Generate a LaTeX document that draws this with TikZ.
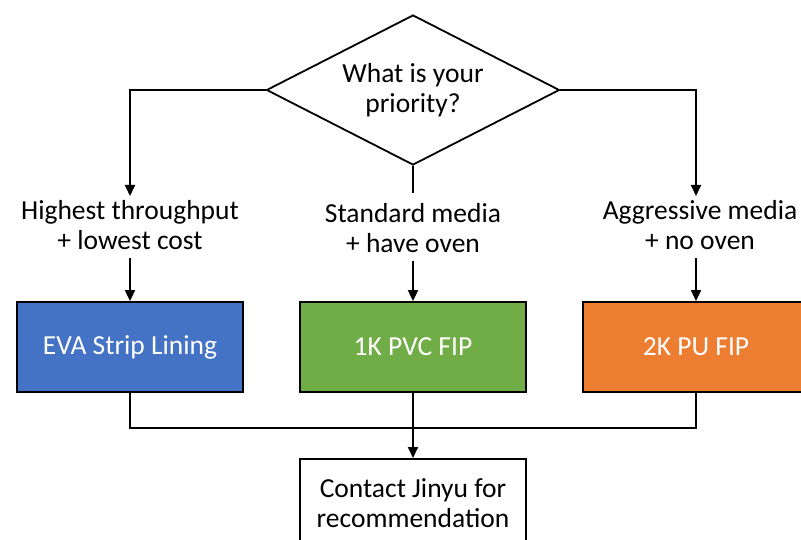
\documentclass[tikz,border=0pt]{standalone}
\usepackage{fontspec}
\setmainfont{Carlito}
\usetikzlibrary{shapes.geometric,arrows.meta}
\definecolor{evablue}{HTML}{4472C4}
\definecolor{pvcgreen}{HTML}{70AD47}
\definecolor{puorange}{HTML}{ED7D31}
\begin{document}
\begin{tikzpicture}[x=1pt,y=-1pt,
  line width=1.8pt,
  conn/.style={draw=black},
  arr/.style={conn,-{Triangle[length=11pt,width=10pt]}},
  lbl/.style={font=\fontsize{27.5}{30}\selectfont,align=center,inner sep=0pt},
  boxnode/.style={draw=black,minimum width=226pt,minimum height=90pt,font=\fontsize{27.5}{30}\selectfont,text=white,inner sep=0pt,align=center},
]
\useasboundingbox (0,0) rectangle (801,540);
\clip (0,0) rectangle (801,540);
\fill[white] (0,0) rectangle (801,540);
% diamond
\node[draw=black,diamond,minimum width=293pt,minimum height=150pt,inner sep=0pt,aspect=1.95] (q) at (413,90) {};
\node[lbl] (qt) at (413,90) {What is your\\priority?};
% labels
\node[lbl] (l1) at (130,225) {Highest throughput\\+ lowest cost};
\node[lbl] (l2) at (413,228) {Standard media\\+ have oven};
\node[lbl] (l3) at (700,225) {Aggressive media\\+ no oven};
% boxes
\node[boxnode,fill=evablue] (b1) at (130,347) {EVA Strip Lining};
\node[boxnode,fill=pvcgreen] (b2) at (413,347) {1K PVC FIP};
\node[boxnode,fill=puorange] (b3) at (696,347) {2K PU FIP};
\node[draw=black,fill=white,minimum width=226pt,minimum height=100pt,anchor=north] (c) at (413,458) {};
\node[lbl] (ct) at (413,503) {Contact Jinyu for\\recommendation};
% connectors
\coordinate (a1) at (130,196);
\coordinate (a3) at (696,196);
\coordinate (a2) at (413,193);
\coordinate (s1) at (130,258);
\coordinate (s2) at (413,261);
\coordinate (s3) at (696,258);
\coordinate (j1) at (130,428);
\coordinate (j3) at (696,428);
\draw[arr] (q.west) -| (a1);
\draw[arr] (q.east) -| (a3);
\draw[conn] (q.south) -- (a2);
\draw[arr] (s1) -- (b1.north);
\draw[arr] (s2) -- (b2.north);
\draw[arr] (s3) -- (b3.north);
\draw[conn] (b1.south) -- (j1) -- (j3) -- (b3.south);
\draw[arr] (b2.south) -- (c.north);
\end{tikzpicture}
\end{document}
